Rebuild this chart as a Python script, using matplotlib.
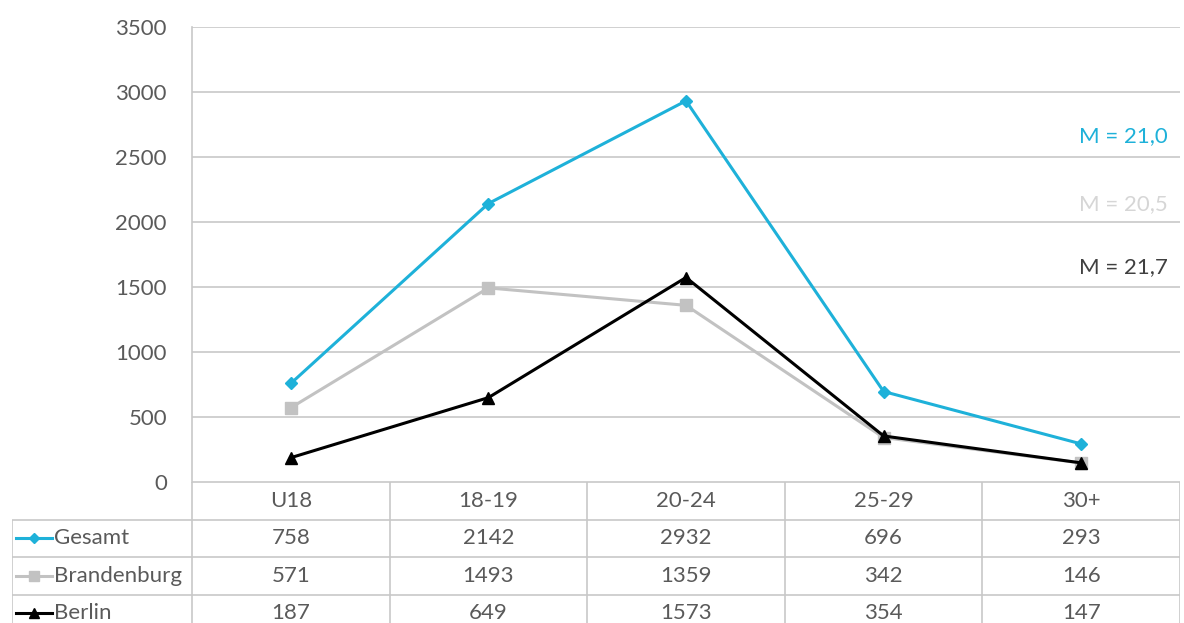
import matplotlib.pyplot as plt
import numpy as np

plt.rcParams['font.family'] = ['Lato', 'DejaVu Sans']

categories = ['U18', '18-19', '20-24', '25-29', '30+']
gesamt = [758, 2142, 2932, 696, 293]
brandenburg = [571, 1493, 1359, 342, 146]
berlin = [187, 649, 1573, 354, 147]
series_names = ['Gesamt', 'Brandenburg', 'Berlin']
mean_labels = ['M = 21,0', 'M = 20,5', 'M = 21,7']
yticks = [0, 500, 1000, 1500, 2000, 2500, 3000, 3500]

W, H = 1184, 623
fig = plt.figure(figsize=(W / 100, H / 100), dpi=100)

# plot area in pixels
left, right, top, bottom = 192, 1180, 27, 482
ax = fig.add_axes([left / W, (H - bottom) / H, (right - left) / W, (bottom - top) / H])

grid_col = '#C8C8C8'
txt_col = '#5A5A5A'
fs = 16
styles = [
    dict(color='#1EB1D9', marker='D', markersize=6),
    dict(color='#C2C2C2', marker='s', markersize=8),
    dict(color='#000000', marker='^', markersize=9),
]
mean_cols = ['#1EB1D9', '#D6D6D6', '#404040']
data = [gesamt, brandenburg, berlin]

x = np.arange(len(categories))
for vals, st in zip(data, styles):
    ax.plot(x, vals, lw=2.2, **st)

ax.set_xlim(-0.5, len(categories) - 0.5)
ax.set_ylim(0, 3500)
ax.set_yticks(yticks)
ax.set_yticklabels([str(t) for t in yticks], fontsize=fs, color=txt_col)
ax.tick_params(axis='y', length=0, pad=18)
ax.set_xticks([])
ax.grid(axis='y', color=grid_col, lw=1.2)
ax.set_axisbelow(True)
for s in ['top', 'right', 'bottom']:
    ax.spines[s].set_visible(False)
ax.spines['left'].set_color(grid_col)
ax.spines['left'].set_linewidth(1.2)

# mean annotations
mean_y = [2660, 2140, 1650]
for lab, c, yy in zip(mean_labels, mean_cols, mean_y):
    ax.text(4.44, yy, lab, ha='right', va='center', fontsize=fs, color=c)

# data table below the plot
unit = (right - left) / len(categories)
tx0 = -0.5 - (left - 12) / unit
row_h = 37.5
tab = fig.add_axes([12 / W, 0, (right - 12) / W, (H - bottom) / H])
tab.set_xlim(tx0, len(categories) - 0.5)
tab.set_ylim((H - bottom) / row_h, 0)
tab.axis('off')

nrows = len(series_names) + 1
tab.hlines(0, -0.5, len(categories) - 0.5, color=grid_col, lw=1.2)
for r in range(1, nrows):
    tab.hlines(r, tx0, len(categories) - 0.5, color=grid_col, lw=1.2)
for c in range(len(categories) + 1):
    tab.vlines(c - 0.5, 0, nrows, color=grid_col, lw=1.2)
tab.vlines(tx0, 1, nrows, color=grid_col, lw=1.2)

for i, cat in enumerate(categories):
    tab.text(i, 0.5, cat, ha='center', va='center', fontsize=fs, color=txt_col)
for r, (name, vals, st) in enumerate(zip(series_names, data, styles), start=1):
    for i, v in enumerate(vals):
        tab.text(i, r + 0.5, str(v), ha='center', va='center', fontsize=fs, color=txt_col)
    # legend key drawn in the first column
    kx0 = tx0 + 4 / unit
    kx1 = tx0 + 40 / unit
    tab.plot([kx0, kx1], [r + 0.5, r + 0.5], lw=2.2, color=st['color'])
    tab.plot([(kx0 + kx1) / 2], [r + 0.5], linestyle='none', color=st['color'],
             marker=st['marker'], markersize=st['markersize'] * 0.85)
    tab.text(tx0 + 42 / unit, r + 0.5, name, ha='left', va='center', fontsize=fs, color=txt_col)

fig.savefig('out.png', dpi=100)
